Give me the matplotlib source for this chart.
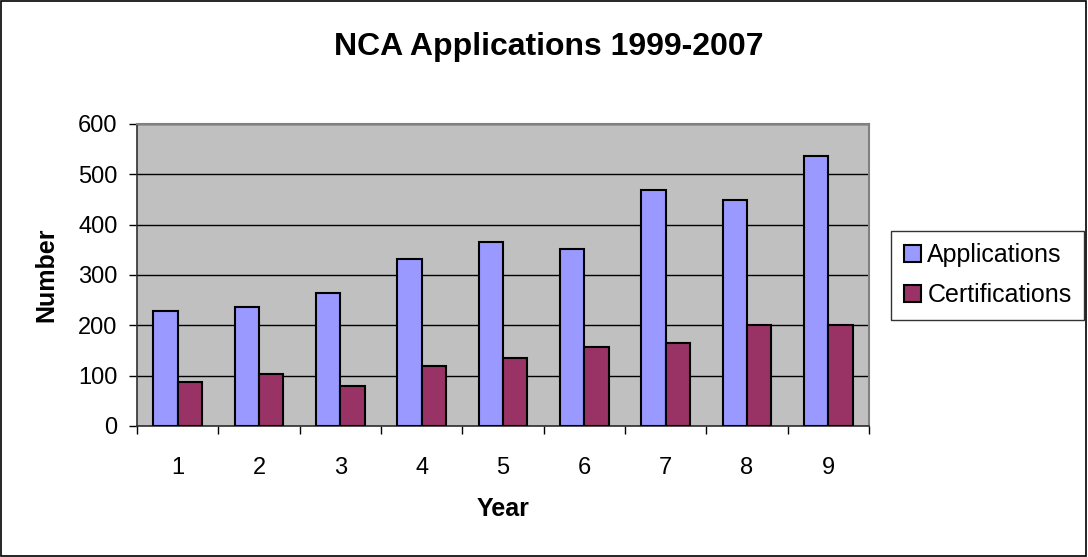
import numpy as np
import matplotlib.pyplot as plt
from matplotlib.patches import Rectangle

years = [1, 2, 3, 4, 5, 6, 7, 8, 9]
applications = [228, 236, 264, 332, 366, 352, 468, 448, 536]
certifications = [88, 104, 80, 120, 136, 156, 164, 200, 200]

plt.rcParams['font.family'] = ['Liberation Sans', 'DejaVu Sans']

fig = plt.figure(figsize=(10.88, 5.57), dpi=100)
ax = fig.add_axes([0.1259, 0.2352, 0.6728, 0.5422])

x = np.arange(len(years))
w = 0.3
ax.bar(x - w / 2, applications, w, color='#9999FF', edgecolor='black', linewidth=1.5,
       label='Applications', zorder=3)
ax.bar(x + w / 2, certifications, w, color='#993366', edgecolor='black', linewidth=1.5,
       label='Certifications', zorder=3)

ax.set_facecolor('#C0C0C0')
ax.set_xlim(-0.5, len(years) - 0.5)
ax.set_ylim(0, 600)
ax.set_yticks(range(0, 601, 100))
ax.yaxis.grid(True, color='black', linewidth=1, zorder=1)
ax.set_axisbelow(True)

# ticks at category boundaries, labels at centres
ax.set_xticks(np.arange(-0.5, len(years), 1))
ax.set_xticklabels([])
ax.set_xticks(x, minor=True)
ax.set_xticklabels([str(y) for y in years], minor=True)
ax.tick_params(axis='x', which='minor', length=0, pad=22, labelsize=17)
ax.tick_params(axis='x', which='major', length=6, width=1, direction='out')
ax.tick_params(axis='y', length=6, width=1, pad=8, labelsize=17)

for s in ['top', 'right']:
    ax.spines[s].set_color('#808080')
    ax.spines[s].set_linewidth(1.5)
for s in ['left', 'bottom']:
    ax.spines[s].set_color('#303030')
    ax.spines[s].set_linewidth(1.2)

ax.set_xlabel('Year', fontsize=18, fontweight='bold', labelpad=13)
ax.set_ylabel('Number', fontsize=18, fontweight='bold', labelpad=14)
fig.suptitle('NCA Applications 1999-2007', fontsize=23, fontweight='bold', x=0.504, y=0.942)

leg = fig.legend(loc='center left', bbox_to_anchor=(0.819, 0.506), fontsize=18,
                 frameon=True, fancybox=False, edgecolor='black', handlelength=0.7,
                 handleheight=0.7, handletextpad=0.25, borderpad=0.5, labelspacing=0.65,
                 borderaxespad=0)
leg.get_frame().set_linewidth(1)

fig.patches.append(Rectangle((0.001, 0.002), 0.997, 0.996, transform=fig.transFigure,
                             fill=False, edgecolor='black', linewidth=1.2))

fig.savefig('out.png', dpi=100)
